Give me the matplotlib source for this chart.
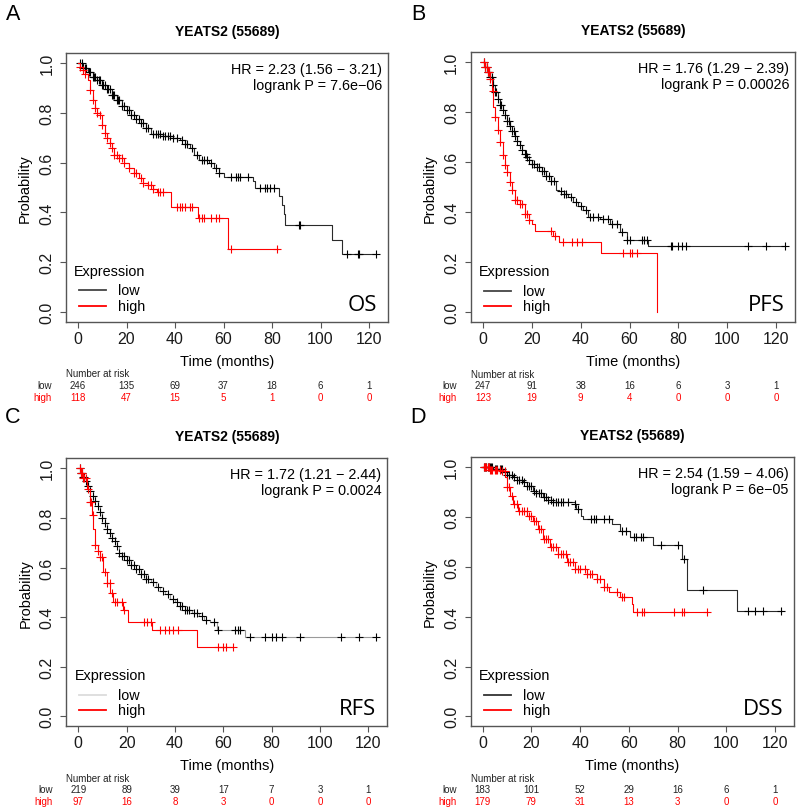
import numpy as np
import matplotlib
matplotlib.use("Agg")
import matplotlib.pyplot as plt

W, H = 797, 812
plt.rcParams['font.family'] = ['Liberation Sans', 'DejaVu Sans']

# ---------------- data ----------------
gene_title = "YEATS2 (55689)"
panel_letters = ["A", "B", "C", "D"]
endpoints = ["OS", "PFS", "RFS", "DSS"]
hr_text = ["HR = 2.23 (1.56 \u2212 3.21)", "HR = 1.76 (1.29 \u2212 2.39)",
           "HR = 1.72 (1.21 \u2212 2.44)", "HR = 2.54 (1.59 \u2212 4.06)"]
p_text = ["logrank P = 7.6e\u221206", "logrank P = 0.00026",
          "logrank P = 0.0024", "logrank P = 6e\u221205"]
risk_times = [0, 20, 40, 60, 80, 100, 120]
risk_low = [[246, 135, 69, 37, 18, 6, 1], [247, 91, 38, 16, 6, 3, 1],
            [219, 89, 39, 17, 7, 3, 1], [183, 101, 52, 29, 16, 6, 1]]
risk_high = [[118, 47, 15, 5, 1, 0, 0], [123, 19, 9, 4, 0, 0, 0],
             [97, 16, 8, 3, 0, 0, 0], [179, 79, 31, 13, 3, 0, 0]]

# step curves: event times, survival after event, end of follow-up
a_low_t = [0, 2, 4, 6, 8, 10, 12, 14, 16, 18, 20, 22, 24, 26, 28, 30, 35, 39, 42, 44, 46, 48, 50, 54, 56, 58, 60, 72, 73, 83, 84, 84.8, 85.4, 104.6, 109]
a_low_s = [1.0, 0.98, 0.962, 0.945, 0.93, 0.912, 0.895, 0.872, 0.85, 0.828, 0.81, 0.79, 0.775, 0.758, 0.74, 0.715, 0.708, 0.70, 0.69, 0.675, 0.66, 0.63, 0.612, 0.60, 0.58, 0.56, 0.543, 0.525, 0.50, 0.467, 0.43, 0.395, 0.351, 0.29, 0.233]
a_low_end = 123
a_low_cens = [1, 1.5, 2, 3, 3.5, 4.5, 5, 6, 6.5, 7, 8, 8.5, 9, 10, 10.5, 11, 12, 12.5, 13, 14, 14.5, 15, 16, 16.5, 17, 18, 19, 20, 21, 22, 23, 24, 25, 26, 27, 28, 29, 31, 32, 33, 34, 35, 36, 37, 38, 39, 41, 43, 44, 45, 47, 49, 51, 52, 53, 55, 57, 58, 63, 65, 66, 67, 70, 75, 77, 78, 79, 81, 91, 91.5, 111, 115.5, 116, 123]
a_high_t = [0, 1, 2, 3, 4, 5, 6, 7, 8, 9, 10, 11, 12, 13, 14, 15, 17, 19, 21, 23, 25, 27, 29, 31, 32.5, 38.5, 49.6, 61.7]
a_high_s = [1.0, 0.985, 0.97, 0.955, 0.93, 0.89, 0.85, 0.82, 0.80, 0.79, 0.75, 0.72, 0.70, 0.68, 0.66, 0.63, 0.62, 0.60, 0.58, 0.56, 0.54, 0.52, 0.51, 0.495, 0.48, 0.42, 0.377, 0.253]
a_high_end = 82.5
a_high_cens = [1, 2, 3, 5, 6, 7, 8, 9, 10, 11, 12, 13, 14, 15, 16, 17, 18, 19, 21, 23, 24, 26, 27, 29, 30, 31, 33, 34, 35, 41, 42, 43, 44, 46, 47, 50, 51, 52, 55, 57, 58, 63, 82]

b_low_t = [0, 1, 2, 3, 4, 5, 6, 7, 8, 9, 10, 11, 12, 13, 14, 15, 16, 17, 18, 19, 20, 22, 24, 26, 28, 30, 31, 33, 35, 37, 39, 41, 43, 48, 52, 56, 58.8, 67.7]
b_low_s = [1.0, 0.98, 0.96, 0.94, 0.91, 0.88, 0.855, 0.83, 0.81, 0.79, 0.765, 0.745, 0.725, 0.705, 0.685, 0.67, 0.65, 0.635, 0.62, 0.61, 0.595, 0.58, 0.565, 0.545, 0.525, 0.49, 0.485, 0.475, 0.46, 0.44, 0.425, 0.41, 0.38, 0.373, 0.353, 0.32, 0.29, 0.264]
b_low_end = 123.7
b_low_cens = [0.5, 1, 1.5, 2, 2.5, 3, 3.5, 4, 5, 5.5, 6, 7, 7.5, 8, 9, 10, 10.5, 11, 12, 12.5, 13, 14, 15, 16, 17, 17.5, 18, 19, 20, 21, 22, 23, 24, 25, 26, 27, 28, 29, 32, 33, 34, 36, 38, 40, 42, 44, 45, 47, 49, 51, 53, 55, 57, 59, 60, 65, 66, 67, 77, 77.5, 80, 81.5, 83, 108.5, 116, 123.7]
b_high_t = [0, 1, 2, 3, 3.5, 4.2, 5, 6, 7, 8, 9, 10, 11, 12, 13, 15, 17, 19, 20, 21.3, 28.8, 31, 48.3, 71.1]
b_high_s = [1.0, 0.98, 0.96, 0.933, 0.886, 0.82, 0.78, 0.73, 0.68, 0.63, 0.59, 0.56, 0.52, 0.49, 0.45, 0.433, 0.393, 0.37, 0.353, 0.326, 0.306, 0.282, 0.236, 0.0]
b_high_end = 71.1
b_high_cens = [0.5, 1, 1.5, 2, 2.5, 3, 4, 5, 6, 7, 8, 9, 10, 11, 12, 13, 14, 15, 16, 17, 18, 19, 28, 29.6, 32.9, 36.3, 38.4, 40.4, 57.5, 60.2, 60.9, 63.2]

c_low_t = [0, 1, 2, 3, 4, 5, 6, 7, 8, 9, 10, 11, 12, 13, 14, 15, 16, 17, 18, 20, 22, 24, 26, 28, 30, 32, 34, 36, 38, 40, 42, 44, 47, 50, 52, 54.5, 57.2, 69]
c_low_s = [1.0, 0.98, 0.965, 0.95, 0.93, 0.91, 0.89, 0.87, 0.85, 0.825, 0.80, 0.78, 0.755, 0.74, 0.72, 0.705, 0.685, 0.66, 0.645, 0.63, 0.61, 0.595, 0.575, 0.555, 0.54, 0.52, 0.505, 0.495, 0.475, 0.46, 0.445, 0.43, 0.415, 0.405, 0.39, 0.38, 0.346, 0.32]
c_low_end = 123
c_low_cens = [0.5, 1, 1.5, 2, 2.5, 3, 4, 5, 6, 7, 8, 9, 10, 11, 12, 13, 14, 15, 16, 17, 18, 19, 20, 21, 22, 23, 24, 25, 26, 27, 28, 29, 31, 33, 35, 37, 39, 41, 42, 43, 44, 45, 46, 48, 49, 51, 53, 56, 58, 65, 66, 67, 71, 77.3, 80, 82, 84.2, 91.7, 108.5, 116.3, 123]
c_high_t = [0, 1, 2, 3.5, 4.8, 5.5, 6.2, 6.9, 8, 9, 10.3, 11.7, 13.1, 14.5, 18.6, 20.7, 30.4, 49]
c_high_s = [1.0, 0.98, 0.96, 0.917, 0.863, 0.81, 0.756, 0.69, 0.665, 0.643, 0.583, 0.536, 0.496, 0.462, 0.429, 0.379, 0.347, 0.278]
c_high_end = 64.1
c_high_cens = [0.5, 1, 1.5, 2, 2.5, 3, 4, 5, 5.2, 6, 7, 8, 9, 10, 11, 12, 13, 14, 15, 16, 18, 19, 27.3, 28.5, 30, 33.8, 36, 37.5, 39, 41.3, 57.7, 60, 61, 64]

d_low_t = [0, 4.4, 8.5, 10, 12.5, 14, 16.6, 18, 20.7, 22, 24.8, 27, 28.9, 37.8, 38.5, 40.5, 41, 52.9, 56.3, 60.4, 70, 81.7, 83.7, 104.3]
d_low_s = [1.0, 0.993, 0.98, 0.97, 0.96, 0.95, 0.94, 0.925, 0.906, 0.895, 0.88, 0.87, 0.86, 0.853, 0.833, 0.806, 0.793, 0.773, 0.746, 0.72, 0.687, 0.633, 0.506, 0.422]
d_low_end = 122.7
d_low_cens = [0.5, 1, 1.5, 2, 2.5, 3, 3.5, 4, 5, 5.5, 6, 7, 7.5, 8, 9, 10, 11, 12, 13, 14, 15, 16, 17, 18, 19, 20, 21, 22, 23, 24, 25, 26, 27, 28, 29, 30, 31, 32, 33, 35, 38, 39, 44.6, 45.5, 46.7, 50, 52, 57, 59, 62, 63, 65, 66, 73, 80, 82.5, 90.4, 108.9, 111.6, 115.1, 122.6]
d_high_t = [0, 3, 7.8, 9.2, 9.9, 11.2, 12.6, 14.6, 18.1, 20.8, 22.8, 24.9, 27.6, 31, 34.5, 37.9, 42.7, 46.8, 49.6, 52, 56.4, 61.2, 61.8]
d_high_s = [1.0, 0.99, 0.987, 0.96, 0.92, 0.886, 0.853, 0.826, 0.806, 0.786, 0.753, 0.713, 0.68, 0.653, 0.62, 0.593, 0.573, 0.553, 0.52, 0.50, 0.48, 0.453, 0.42]
d_high_end = 91.9
d_high_cens = [0.5, 1, 1.5, 2, 2.5, 3, 3.5, 4, 5, 5.5, 6, 7, 8, 9, 10, 11, 12, 13, 14, 15, 16, 17, 18, 19, 20, 21, 22, 23, 24, 25, 26, 27, 28, 29, 30, 31, 32, 33, 34, 35, 36, 37, 38, 39, 40, 42, 43, 44, 45, 47, 48, 50, 51, 55, 57, 58, 63.5, 65.6, 66.3, 78.6, 82, 82.7, 91.9]

curves = [
    ((a_low_t, a_low_s, a_low_end, a_low_cens), (a_high_t, a_high_s, a_high_end, a_high_cens)),
    ((b_low_t, b_low_s, b_low_end, b_low_cens), (b_high_t, b_high_s, b_high_end, b_high_cens)),
    ((c_low_t, c_low_s, c_low_end, c_low_cens), (c_high_t, c_high_s, c_high_end, c_high_cens)),
    ((d_low_t, d_low_s, d_low_end, d_low_cens), (d_high_t, d_high_s, d_high_end, d_high_cens)),
]

# ---------------- layout (pixels of tick 0 / 120 and prob 1 / 0) ----------------
geom = [(78, 369, 64, 313), (483, 776, 63.3, 313.3),
        (78.3, 368.3, 469.3, 717.3), (482.7, 775, 468.3, 717.3)]
letter_pos = [(13, 15), (418, 15), (13, 418), (418, 418)]
low_line_col = ['#2a2a2a', '#2a2a2a', '#9a9a9a', '#2a2a2a']
low_leg_col = ['#444444', '#444444', '#dcdcdc', '#333333']
XL = (-4.92, 127.92)
YL = (-0.04, 1.04)
RED = '#ff0000'

fig = plt.figure(figsize=(W / 100, H / 100), dpi=100)


def fx(px):
    return px / W


def fy(py):
    return 1 - py / H


def surv_at(t, s, x):
    idx = np.searchsorted(np.asarray(t), x, side='right') - 1
    return np.asarray(s)[idx]


for i in range(4):
    x0, x120, y1, y0 = geom[i]
    pxm = (x120 - x0) / 120.0
    pym = (y0 - y1)
    left = x0 + XL[0] * pxm
    right = x0 + XL[1] * pxm
    top = y0 - YL[1] * pym
    bottom = y0 - YL[0] * pym
    ax = fig.add_axes([fx(left), fy(bottom), fx(right - left), (bottom - top) / H])
    ax.set_xlim(*XL)
    ax.set_ylim(*YL)

    for k, (t, s, tend, cens) in enumerate(curves[i]):
        col = low_line_col[i] if k == 0 else RED
        mcol = 'black' if k == 0 else RED
        xs = list(t) + [tend]
        ys = list(s) + [s[-1]]
        ax.step(xs, ys, where='post', color=col, lw=0.8)
        cy = surv_at(t, s, np.asarray(cens))
        ax.plot(cens, cy, linestyle='none', marker='+', color=mcol,
                markersize=5.5, markeredgewidth=0.8)

    for sp in ax.spines.values():
        sp.set_color('#555555')
        sp.set_linewidth(1.0)
    ax.set_xticks(risk_times)
    ax.set_yticks([0.0, 0.2, 0.4, 0.6, 0.8, 1.0])
    ax.set_yticklabels(['0.0', '0.2', '0.4', '0.6', '0.8', '1.0'], rotation=90, va='center')
    ax.tick_params(axis='both', direction='out', length=4.5, width=0.8, color='#555555',
                   labelsize=11.5, labelcolor='#1a1a1a')
    ax.tick_params(axis='x', pad=2)
    ax.tick_params(axis='y', pad=4)

    # title / labels
    fig.text(fx((left + right) / 2), fy(top - 22), gene_title, ha='center', va='center',
             fontsize=10, fontweight='bold')
    fig.text(fx(left - 41), fy((top + bottom) / 2), "Probability", rotation=90,
             ha='center', va='center', fontsize=10.5)
    fig.text(fx((left + right) / 2), fy(bottom + 39), "Time (months)", ha='center',
             va='center', fontsize=10.5)

    # HR text
    fig.text(fx(right - 6), fy(top + 15.5), hr_text[i], ha='right', va='center', fontsize=10.4)
    fig.text(fx(right - 6), fy(top + 32), p_text[i], ha='right', va='center', fontsize=10.4)

    # legend (manual, R style)
    lx = left + 8
    fig.text(fx(lx), fy(y0 - 0.166 * pym), "Expression", ha='left', va='center', fontsize=10.4)
    for j, (lab, lc) in enumerate([("low", low_leg_col[i]), ("high", RED)]):
        yy = y0 - (0.087 - 0.063 * j) * pym
        ax.plot([(lx + 5 - x0) / pxm, (lx + 32 - x0) / pxm], [(y0 - yy) / pym] * 2,
                color=lc, lw=1.3, clip_on=False)
        fig.text(fx(lx + 44), fy(yy), lab, ha='left', va='center', fontsize=10.4)

    # endpoint label
    fig.text(fx(right - 11), fy(y0 - 0.03 * pym), endpoints[i], ha='right', va='center',
             fontsize=16, family='Open Sans')

    # panel letter
    fig.text(fx(letter_pos[i][0]), fy(letter_pos[i][1]), panel_letters[i], ha='center',
             va='center', fontsize=15.5)

    # number at risk table
    fig.text(fx(left), fy(bottom + 51.5), "Number at risk", ha='left', va='center',
             fontsize=7, color='#222222')
    fig.text(fx(left - 14), fy(bottom + 63), "low", ha='right', va='center', fontsize=7,
             color='#222222')
    fig.text(fx(left - 14), fy(bottom + 75), "high", ha='right', va='center', fontsize=7,
             color=RED)
    for tt, nl, nh in zip(risk_times, risk_low[i], risk_high[i]):
        fig.text(fx(x0 + tt * pxm), fy(bottom + 63), str(nl), ha='center', va='center',
                 fontsize=7, color='#222222')
        fig.text(fx(x0 + tt * pxm), fy(bottom + 75), str(nh), ha='center', va='center',
                 fontsize=7, color=RED)

fig.savefig("out.png", dpi=100)
